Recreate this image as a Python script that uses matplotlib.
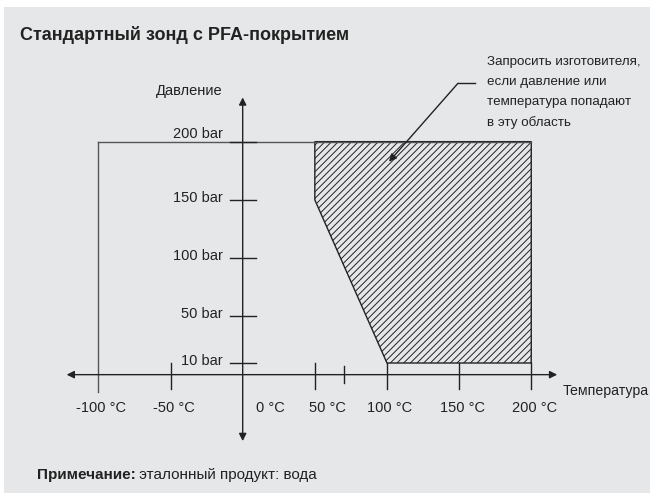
import matplotlib
matplotlib.use('Agg')
import matplotlib.pyplot as plt
from matplotlib.patches import Polygon, Rectangle

plt.rcParams['font.family'] = ['Liberation Sans', 'DejaVu Sans']
plt.rcParams['hatch.linewidth'] = 0.7
plt.rcParams['hatch.color'] = '#333333'

BG = '#e6e7e9'
INK = '#222222'

TITLE = 'Стандартный зонд с PFA-покрытием'
NOTE_BOLD = 'Примечание:'
NOTE_TEXT = 'эталонный продукт: вода'
ANNOT = 'Запросить изготовителя,\nесли давление или\nтемпература попадают\nв эту область'

temp_ticks = [-100, -50, 0, 50, 100, 150, 200]
temp_labels = ['-100 °C', '-50 °C', '0 °C', '50 °C', '100 °C', '150 °C', '200 °C']
temp_minor = [70]
pres_ticks = [10, 50, 100, 150, 200]
pres_labels = ['10 bar', '50 bar', '100 bar', '150 bar', '200 bar']

# область, где нужно запросить изготовителя
zone_temp = [50, 50, 100, 200, 200]
zone_pres = [200, 150, 10, 10, 200]
t_min, t_max = -100, 200
p_max = 200

fig = plt.figure(figsize=(6.5, 4.95), dpi=100)
fig.patch.set_facecolor('white')
fig.patches.append(Rectangle((4 / 650, 2 / 495), 646 / 650, 486 / 495,
                             transform=fig.transFigure, facecolor=BG,
                             edgecolor='none', zorder=-10))

ax = fig.add_axes([0, 0, 1, 1])
ax.set_xlim(-168.2, 282.3)
ax.set_ylim(-103.3, 321.6)
ax.axis('off')
ax.patch.set_alpha(0)

arrow = dict(arrowstyle='<|-|>', lw=1.0, color=INK, mutation_scale=11,
             shrinkA=0, shrinkB=0)
ax.annotate('', xy=(t_max + 18, 0), xytext=(t_min - 22, 0), arrowprops=arrow)
ax.annotate('', xy=(0, p_max + 38), xytext=(0, -57), arrowprops=arrow)

# hatched zone
zone = Polygon(list(zip(zone_temp, zone_pres)), closed=True, facecolor='none',
               edgecolor=INK, hatch='/////', lw=1.0)
ax.add_patch(zone)

# 200 bar boundary and -100 °C boundary
ax.plot([t_min, t_max], [p_max, p_max], color='#555555', lw=1.0)
ax.plot([t_min, t_min], [p_max, -15], color='#555555', lw=1.0)

# temperature ticks and labels
shift = {0: 25, 50: 10}
for t, lab in zip(temp_ticks, temp_labels):
    if t != 0 and t != t_min:
        ax.plot([t, t], [10, -12], color=INK, lw=1.0)
    ax.annotate(lab, (t, 0), xytext=(3 + shift.get(t, 0), -33),
                textcoords='offset pixels', ha='center', va='center',
                fontsize=10.5, color=INK)
for t in temp_minor:
    ax.plot([t, t], [7.5, -7.5], color=INK, lw=1.0)

# pressure ticks and labels
for p, lab in zip(pres_ticks, pres_labels):
    ax.plot([-9, 9], [p, p], color=INK, lw=1.0)
    ax.annotate(lab, (0, p), xytext=(-20, 8 if p == p_max else 2),
                textcoords='offset pixels', ha='right', va='center',
                fontsize=10.5, color=INK)

ax.annotate('Давление', (0, 243.8), xytext=(-20, 0), textcoords='offset pixels',
            ha='right', va='center', fontsize=10.5, color=INK)
ax.annotate('Температура', (t_max + 18, 0), xytext=(5, -16),
            textcoords='offset pixels', ha='left', va='center',
            fontsize=10.2, color=INK)

# callout
ax.plot([149.2, 161], [250.1, 250.1], color=INK, lw=1.0)
ax.annotate('', xy=(101.4, 182.8), xytext=(149.2, 250.1),
            arrowprops=dict(arrowstyle='-|>', lw=1.0, color=INK,
                            mutation_scale=11, shrinkA=0, shrinkB=0))
ax.text(169, 242.2, ANNOT, ha='left', va='center', fontsize=9.6,
        color=INK, linespacing=1.87)

fig.text(20 / 650, 1 - 35 / 495, TITLE, ha='left', va='center',
         fontsize=13, fontweight='bold', color=INK)
t1 = fig.text(36.7 / 650, 1 - 475 / 495, NOTE_BOLD, ha='left', va='center',
              fontsize=11, fontweight='bold', color=INK)
ax.annotate(' ' + NOTE_TEXT, (1, 0), xycoords=t1, ha='left', va='bottom',
            fontsize=11, color=INK)

fig.savefig('out.png', dpi=100)
